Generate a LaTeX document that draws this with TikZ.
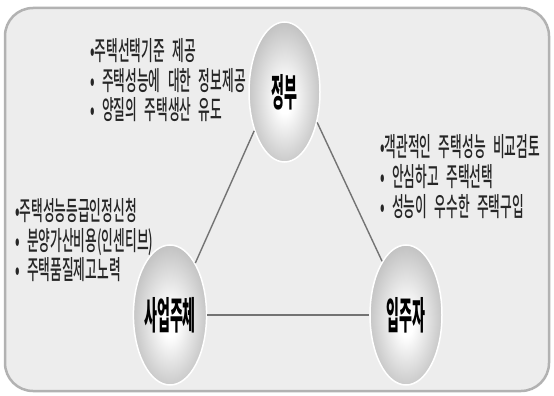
\documentclass[tikz,border=0pt]{standalone}
\usepackage{fontspec}
\newfontfamily\kr[FakeStretch=0.48, WordSpace=2.6]{Noto Sans CJK KR Medium}
\newfontfamily\krl[FakeStretch=0.37]{Noto Sans CJK KR Black}
\usetikzlibrary{shapes.geometric}
\pgfdeclareradialshading{orb}{\pgfpoint{0bp}{-3bp}}{color(0bp)=(white); color(5bp)=(white); color(30bp)=(black!28); color(50bp)=(black!44)}
\tikzset{
  bgframe/.style={fill=black!7, draw=black!30, line width=2.5pt, rounded corners=28pt},
  orbnode/.style={ellipse, minimum width=71pt, minimum height=140pt, inner sep=0pt,
    shade, shading=orb, draw=white, line width=1.5pt,
    font=\krl\fontsize{38}{38}\selectfont, text=black},
  item/.style={anchor=base west, inner sep=0pt, text=black!85,
    font=\kr\fontsize{26.5}{26.5}\selectfont},
  link/.style={draw=black!55, line width=1.4pt}
}
\begin{document}
\begin{tikzpicture}[x=1pt,y=1pt]
\useasboundingbox (0,0) rectangle (554,-396);
\fill[white] (0,0) rectangle (554,-396);
\draw[bgframe] (5,-8) rectangle (549,-391);
\node[orbnode] (gov) at (284.5,-92) {정부};
\node[orbnode] (biz) at (170,-315) {사업주체};
\node[orbnode, minimum width=72pt] (res) at (406,-315) {입주자};
\draw[link] (gov.232) -- (biz.64);
\draw[link] (gov.317) -- (res.114);
\draw[link] (biz.east) -- (res.west);
\node[item] (g1) at (90,-60) {•주택선택기준 제공};
\node[item] (g2) at (90,-90) {• 주택성능에 대한 정보제공};
\node[item] (g3) at (90,-119) {• 양질의 주택생산 유도};
\node[item] (b1) at (15,-220) {•주택성능등급인정신청};
\node[item] (b2) at (15,-250) {• 분양가산비용(인센티브)};
\node[item] (b3) at (15,-279) {• 주택품질제고노력};
\node[item] (r1) at (380,-156) {•객관적인 주택성능 비교검토};
\node[item] (r2) at (380,-186) {• 안심하고 주택선택};
\node[item] (r3) at (380,-216) {• 성능이 우수한 주택구입};
\end{tikzpicture}
\end{document}
